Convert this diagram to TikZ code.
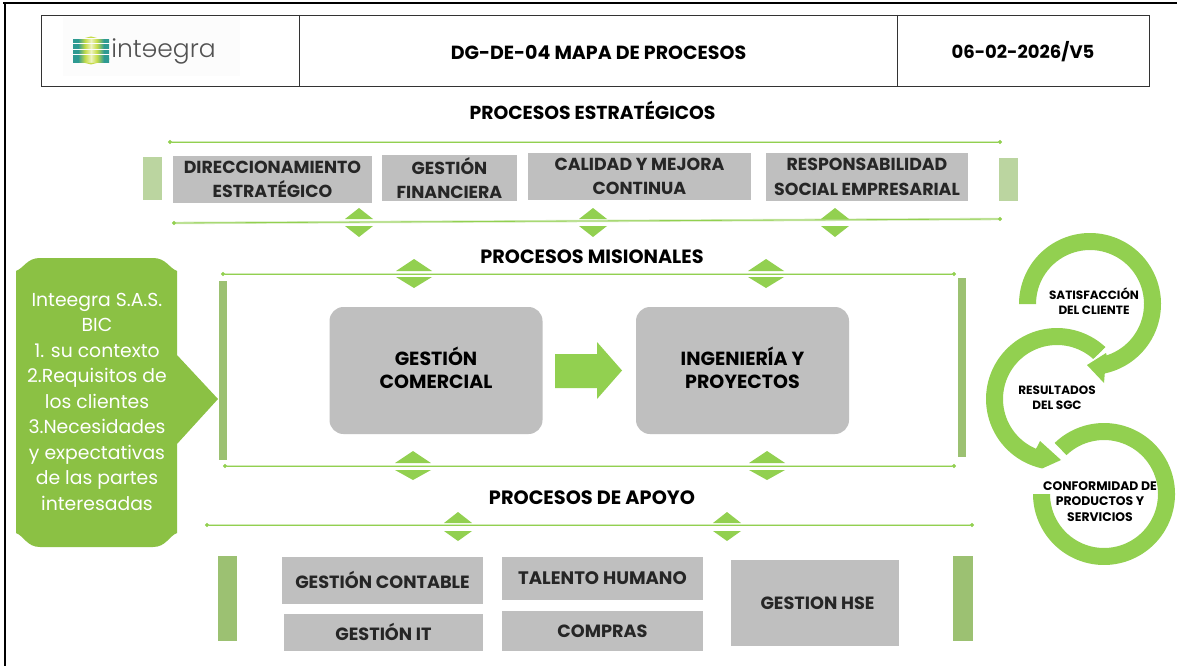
\documentclass[tikz,border=0pt]{standalone}
\usepackage{fontspec}
\usepackage{graphicx}
\setmainfont{Poppins}
\newfontfamily\logofont{Poppins Light}
\usetikzlibrary{arrows.meta}
\definecolor{ringg}{HTML}{92D050}
\definecolor{leafg}{HTML}{8BC144}
\definecolor{barlight}{HTML}{BBD5A0}
\definecolor{barmid}{HTML}{9CC172}
\definecolor{boxgray}{HTML}{BFBFBF}
\definecolor{inkdark}{HTML}{262626}
\definecolor{halo}{HTML}{D3EBBA}
\definecolor{logoteal}{HTML}{2E9A92}
\definecolor{logolime}{HTML}{C6DC4A}
\definecolor{logopale}{HTML}{EEF3C0}
\newcommand{\sz}[2]{\fontsize{#1}{#2}\selectfont\bfseries}
\pgfdeclarehorizontalshading{logostrip}{100bp}{
 color(0bp)=(logoteal); color(32bp)=(logoteal); color(42bp)=(logolime); color(50bp)=(logopale);
 color(58bp)=(logolime); color(68bp)=(logoteal); color(100bp)=(logoteal)}
\tikzset{
 grayb/.style={fill=boxgray,draw=none,inner sep=0pt,align=center,text=inkdark,font=\sz{17.4}{24.5}},
 lowb/.style={grayb,font=\sz{17.7}{24}},
 roundb/.style={grayb,rounded corners=14pt,minimum width=213pt,minimum height=127pt,text=black},
 labelc/.style={inner sep=0pt,align=center,text=black,font=\sz{19}{23}},
 headc/.style={draw=black!80,line width=.9pt,fill=none,inner sep=0pt},
 title/.style={inner sep=0pt,text=black,font=\sz{19}{22}},
 bar/.style={draw=none,inner sep=0pt},
 gline/.style={draw=halo,line width=2.4pt},
 gcore/.style={draw=ringg,line width=.8pt,{Circle[length=4pt,width=4pt,fill=ringg]}-{Circle[length=4pt,width=4pt,fill=ringg]},shorten <=-1pt,shorten >=-1pt},
 ringt/.style={inner sep=0pt,align=center,text=black,font=\sz{12}{15.3}},
}
\newcommand{\updown}[6]{%
 \fill[ringg] (#1-#6,#3) -- (#1,#2) -- (#1+#6,#3) -- cycle;
 \fill[ringg] (#1-#6,#4) -- (#1,#5) -- (#1+#6,#4) -- cycle;}
\newcommand{\gsep}[3]{%
 \coordinate (#1a) at #2; \coordinate (#1b) at #3;
 \draw[gline] (#1a) -- (#1b);
 \draw[gcore] (#1a) -- (#1b);}
\begin{document}
\begin{tikzpicture}[x=1pt,y=-1pt]
\useasboundingbox (0,0) rectangle (1177,666);
\fill[white] (0,0) rectangle (1177,666);
% page frame
\fill[black] (3,2) rectangle (1177,4.2);
\fill[black] (3.6,2) rectangle (5.8,666);
% header
\fill[black!1] (63,17) rectangle (240,76);
\draw[headc] (41,15) rectangle (1149,86);
\draw[headc] (299,15) -- (299,86);
\draw[headc] (897.5,15) -- (897.5,86);
% logo mark
\foreach \yy in {41,46.5,52,57.5,60.5}{
 \shade[shading=logostrip] (73,\yy-1.9) rectangle (109,\yy+1.9);}
\fill[logolime] (85,38) -- (97,38) -- (91,36.5) -- cycle;
\fill[logolime] (85,63) -- (97,63) -- (91,64.5) -- cycle;
\node[inner sep=0pt,text=black!68,font=\logofont\fontsize{25}{25}\selectfont] (logo) at (163.5,51) {int\reflectbox{e}egra};
\node[title,font=\sz{19}{22}] (doc) at (598.5,52) {DG-DE-04 MAPA DE PROCESOS};
\node[title,font=\sz{18}{22}] (date) at (1023,52) {06-02-2026/V5};
% estrategicos
\node[title,font=\sz{18.8}{22}] (testr) at (592.5,110) {PROCESOS ESTRATÉGICOS};
\gsep{l1}{(169,142)}{(1001,142)}
\node[bar,fill=barlight,minimum width=19pt,minimum height=43pt] (b1) at (152.5,178.5) {};
\node[bar,fill=barlight,minimum width=19pt,minimum height=43pt] (b2) at (1008.5,179.5) {};
\node[grayb,minimum width=199pt,minimum height=47pt] (dir) at (272.5,179.5) {DIRECCIONAMIENTO\\ESTRATÉGICO};
\node[grayb,minimum width=135pt,minimum height=46pt] (fin) at (449.5,178) {GESTIÓN\\FINANCIERA};
\node[grayb,minimum width=223pt,minimum height=47pt] (cal) at (639.5,176.5) {CALIDAD Y MEJORA\\CONTINUA};
\node[grayb,minimum width=202pt,minimum height=48pt] (res) at (867,177) {RESPONSABILIDAD\\SOCIAL EMPRESARIAL};
\gsep{l2}{(173,223)}{(1001,219)}
\updown{359}{208}{219}{226}{237}{14}
\updown{593}{208}{219}{226}{237}{14}
\updown{835}{208}{219}{226}{237}{14}
% misionales
\node[title,font=\sz{19.2}{22}] (tmis) at (592,257) {PROCESOS MISIONALES};
\gsep{l3}{(222,274)}{(955,274)}
\gsep{l4}{(224,466)}{(955,466)}
\updown{414}{259}{271}{277}{288}{18}
\updown{766}{259}{271}{277}{288}{18}
\updown{413}{451}{463}{470}{480}{18}
\updown{767}{451}{463}{470}{480}{18}
\node[bar,fill=barmid,minimum width=8pt,minimum height=179pt] (b3) at (223,370.5) {};
\node[bar,fill=barmid,minimum width=8pt,minimum height=179pt] (b4) at (962,367.5) {};
\node[roundb] (com) at (436,370.5) {};
\node[roundb] (ing) at (742.5,370.5) {};
\node[labelc] (comt) at (436,368) {GESTIÓN\\COMERCIAL};
\node[labelc] (ingt) at (742.5,368) {INGENIERÍA Y\\PROYECTOS};
\fill[ringg] (555,354) -- (597,354) -- (597,342) -- (622,370.5) -- (597,399) -- (597,388) -- (555,388) -- cycle;
% left box
\fill[leafg] (16,271) .. controls (24,268) and (27,258) .. (40,258) -- (153,258) .. controls (166,258) and (169,268) .. (177,271)
 -- (177,355) -- (218,399) -- (177,444) -- (177,533)
 .. controls (169,536) and (166,547) .. (153,547) -- (40,547) .. controls (27,547) and (24,536) .. (16,533) -- cycle;
\node[inner sep=0pt,align=center,text=white,font=\fontsize{18.8}{25.5}\selectfont] (ctx) at (97,401.5) {Inteegra S.A.S.\\BIC\\1. su contexto\\2.Requisitos de\\los clientes\\3.Necesidades\\y expectativas\\de las partes\\interesadas};
% apoyo
\node[title,font=\sz{19.3}{22}] (tapo) at (592,498) {PROCESOS DE APOYO};
\gsep{l5}{(206,525)}{(973,525)}
\updown{458}{512}{523}{531}{541}{14}
\updown{727}{512}{523}{531}{541}{14}
\node[bar,fill=barmid,minimum width=19pt,minimum height=85pt] (b5) at (227.5,598.5) {};
\node[bar,fill=barmid,minimum width=20pt,minimum height=85pt] (b6) at (962.5,598.5) {};
\node[lowb,minimum width=201pt,minimum height=47pt] (con) at (382.5,580.5) {\raisebox{.8pt}{GESTIÓN CONTABLE}};
\node[lowb,minimum width=199pt,minimum height=37pt] (git) at (383.5,632.5) {\raisebox{1.5pt}{GESTIÓN IT}};
\node[lowb,font=\sz{18.1}{24},minimum width=201pt,minimum height=43pt] (tal) at (602.5,578.5) {TALENTO HUMANO};
\node[lowb,minimum width=201pt,minimum height=40pt] (cmp) at (602.5,631) {COMPRAS};
\node[lowb,minimum width=168pt,minimum height=86pt] (hse) at (815,603) {\hspace{5pt}GESTION HSE};
% cycle rings
\fill[ringg] plot[smooth,domain=180:-78,samples=60] ({1090+71*cos(\x)},{304-71*sin(\x)})
  -- (1104,383) -- (1087,365) -- (1106,353)
  -- plot[smooth,domain=-72:180,samples=60] ({1090+54*cos(\x)},{304-54*sin(\x)}) -- cycle;
\fill[ringg] plot[smooth,domain=47:258,samples=60] ({1057+71*cos(\x)},{399-71*sin(\x)})
  -- (1061,460) -- (1040,441) -- (1037,447)
  -- plot[smooth,domain=247:47,samples=60] ({1057+54*cos(\x)},{399-54*sin(\x)}) -- cycle;
\draw[white,line width=.9pt] (1093,360) -- (1107,347);
\fill[ringg] plot[smooth,domain=134:-180,samples=80] ({1104+71*cos(\x)},{494-71*sin(\x)})
  -- plot[smooth,domain=-180:134,samples=80] ({1104+54*cos(\x)},{494-54*sin(\x)}) -- cycle;
\node[ringt] (sat) at (1094,301.5) {SATISFACCIÓN\\DEL CLIENTE};
\node[ringt] (sgc) at (1057,398) {RESULTADOS\\DEL SGC};
\node[ringt,font=\sz{12.4}{15.3}] (pro) at (1100,501.5) {CONFORMIDAD DE\\PRODUCTOS Y\\SERVICIOS};
\end{tikzpicture}
\end{document}
